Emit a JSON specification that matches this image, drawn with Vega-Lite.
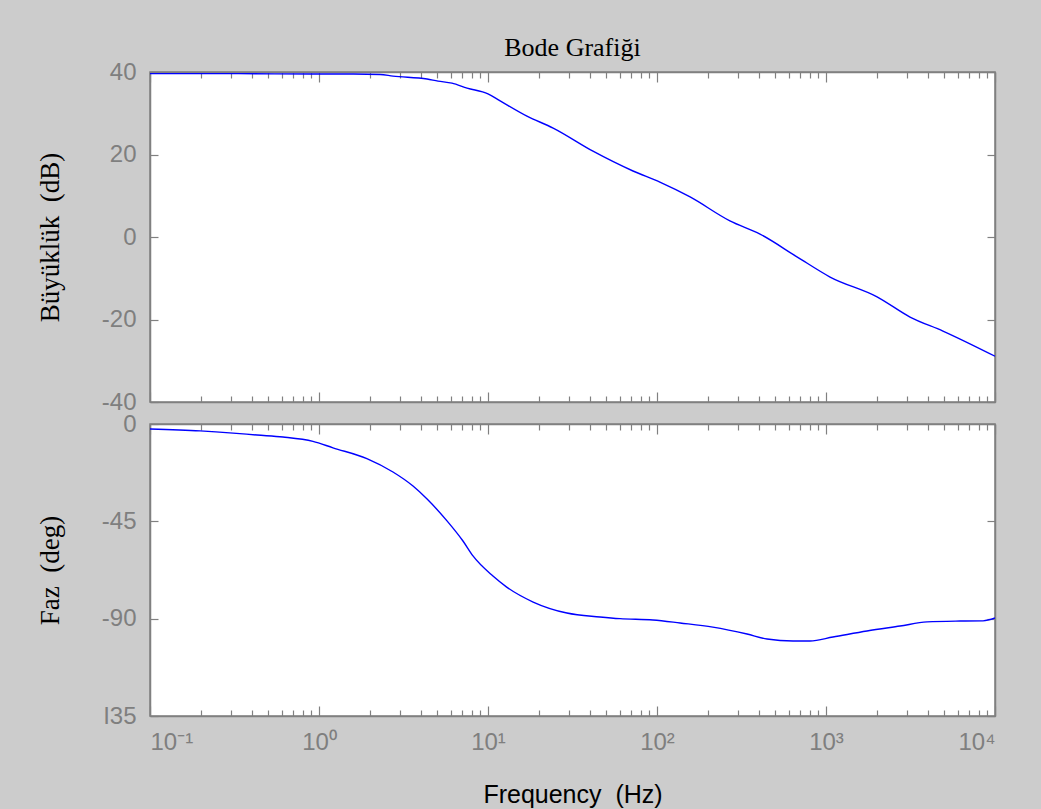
{
  "$schema": "https://vega.github.io/schema/vega-lite/v6.json",
  "autosize": {"type": "pad"},
  "padding": {"left": 35, "top": 34, "right": 45, "bottom": 2},
  "background": "#cccccc",
  "datasets": {
    "mag": [
      {"f": 0.1, "v": 39.6}, {"f": 0.3, "v": 39.6}, {"f": 1, "v": 39.5}, {"f": 1.6, "v": 39.5},
      {"f": 2.3, "v": 39.4}, {"f": 2.74, "v": 39.0}, {"f": 4.36, "v": 38.3}, {"f": 5.06, "v": 37.8},
      {"f": 6.12, "v": 37.3}, {"f": 7.52, "v": 36.1}, {"f": 10, "v": 34.7}, {"f": 11.8, "v": 33.0},
      {"f": 17.0, "v": 29.3}, {"f": 24.3, "v": 26.4}, {"f": 41.8, "v": 20.8}, {"f": 72.1, "v": 16.0},
      {"f": 104, "v": 13.3}, {"f": 157, "v": 9.7}, {"f": 270, "v": 3.9}, {"f": 407, "v": 0.7},
      {"f": 673, "v": -4.8}, {"f": 1057, "v": -9.7}, {"f": 2005, "v": -14.5}, {"f": 3142, "v": -19.4},
      {"f": 4920, "v": -22.8}, {"f": 10000, "v": -28.9}
    ],
    "phase": [
      {"f": 0.1, "v": -2.3}, {"f": 0.198, "v": -3.2}, {"f": 0.31, "v": -4.2}, {"f": 0.43, "v": -5.1},
      {"f": 0.612, "v": -6.0}, {"f": 0.921, "v": -8.0}, {"f": 1.21, "v": -11.0}, {"f": 1.92, "v": -16.0},
      {"f": 2.74, "v": -22.2}, {"f": 3.6, "v": -28.7}, {"f": 4.36, "v": -34.7}, {"f": 5.72, "v": -44.8},
      {"f": 7.11, "v": -54.1}, {"f": 8.15, "v": -61.0}, {"f": 10.7, "v": -70.3}, {"f": 12.9, "v": -75.4},
      {"f": 18.5, "v": -82.3}, {"f": 29.3, "v": -87.4}, {"f": 46.0, "v": -89.2}, {"f": 60.4, "v": -90.0},
      {"f": 94.6, "v": -90.6}, {"f": 137, "v": -92.0}, {"f": 214, "v": -93.9}, {"f": 341, "v": -97.1},
      {"f": 448, "v": -99.4}, {"f": 638, "v": -100.3}, {"f": 804, "v": -100.3}, {"f": 1099, "v": -98.5},
      {"f": 1748, "v": -95.7}, {"f": 2742, "v": -93.4}, {"f": 3963, "v": -91.5}, {"f": 6209, "v": -91.1},
      {"f": 8500, "v": -91.0}, {"f": 10000, "v": -89.7}
    ]
  },
  "config": {
    "view": {"fill": "white", "stroke": "#808080", "strokeWidth": 1.5},
    "axis": {
      "grid": false,
      "domainColor": "#808080",
      "domainWidth": 1.5,
      "tickColor": "#808080",
      "tickWidth": 1.2,
      "tickSize": -8,
      "labelColor": "#7f7f7f",
      "labelFont": "Liberation Sans",
      "labelFontSize": 24,
      "titleFont": "Liberation Serif",
      "titleFontSize": 27,
      "titleFontWeight": "normal",
      "titleColor": "black"
    },
    "title": {"font": "Liberation Serif", "fontSize": 26, "fontWeight": "normal", "color": "black"}
  },
  "vconcat": [
    {
      "width": 845,
      "height": 330,
      "title": {"text": "Bode Grafiği", "anchor": "middle", "offset": -1},
      "resolve": {"axis": {"x": "independent", "y": "independent"}},
      "layer": [
        {
          "data": {"name": "mag"},
          "mark": {"type": "line", "color": "#0000ff", "strokeWidth": 1.4, "clip": true, "interpolate": "monotone"},
          "encoding": {
            "x": {"field": "f", "type": "quantitative",
              "scale": {"type": "log", "domain": [0.1, 10000], "nice": false},
              "axis": {"orient": "bottom", "title": null, "labels": false,
                "values": [0.1,0.2,0.3,0.4,0.5,0.6,0.7,0.8,0.9,1,2,3,4,5,6,7,8,9,10,20,30,40,50,60,70,80,90,100,200,300,400,500,600,700,800,900,1000,2000,3000,4000,5000,6000,7000,8000,9000,10000],
                "tickSize": {"condition": {"test": "abs(log(datum.value)/LN10 - round(log(datum.value)/LN10)) < 0.001", "value": -10}, "value": -6}}},
            "y": {"field": "v", "type": "quantitative",
              "scale": {"domain": [-40, 40], "nice": false},
              "axis": {"orient": "left", "values": [-40, -20, 0, 20, 40], "labelExpr": "'' + datum.value",
                "labelPadding": 22, "title": "Büyüklük \u00a0(dB)", "titleX": -100, "titleY": 165, "titleBaseline": "middle", "titleAngle": 270}}
          }
        },
        {
          "data": {"name": "mag"},
          "mark": {"type": "line", "opacity": 0},
          "encoding": {
            "x": {"field": "f", "type": "quantitative",
              "scale": {"type": "log", "domain": [0.1, 10000], "nice": false},
              "axis": {"orient": "top", "title": null, "labels": false,
                "values": [0.1,0.2,0.3,0.4,0.5,0.6,0.7,0.8,0.9,1,2,3,4,5,6,7,8,9,10,20,30,40,50,60,70,80,90,100,200,300,400,500,600,700,800,900,1000,2000,3000,4000,5000,6000,7000,8000,9000,10000],
                "tickSize": {"condition": {"test": "abs(log(datum.value)/LN10 - round(log(datum.value)/LN10)) < 0.001", "value": -10}, "value": -6}}},
            "y": {"field": "v", "type": "quantitative",
              "scale": {"domain": [-40, 40], "nice": false},
              "axis": {"orient": "right", "values": [-40, -20, 0, 20, 40], "labels": false, "title": null}}
          }
        }
      ]
    },
    {
      "width": 845,
      "height": 292,
      "resolve": {"axis": {"x": "independent", "y": "independent"}},
      "layer": [
        {
          "data": {"name": "phase"},
          "mark": {"type": "line", "color": "#0000ff", "strokeWidth": 1.4, "clip": true, "interpolate": "monotone"},
          "encoding": {
            "x": {"field": "f", "type": "quantitative",
              "scale": {"type": "log", "domain": [0.1, 10000], "nice": false},
              "axis": {"orient": "bottom", "title": "Frequency \u00a0(Hz)", "titleFont": "Liberation Sans", "titleFontSize": 25, "titlePadding": 28,
                "labelPadding": 24,
                "labelExpr": "abs(log(datum.value)/LN10 - round(log(datum.value)/LN10)) < 0.001 ? ['10⁻¹','10⁰','10¹','10²','10³','10⁴'][round(log(datum.value)/LN10)+1] : ''",
                "values": [0.1,0.2,0.3,0.4,0.5,0.6,0.7,0.8,0.9,1,2,3,4,5,6,7,8,9,10,20,30,40,50,60,70,80,90,100,200,300,400,500,600,700,800,900,1000,2000,3000,4000,5000,6000,7000,8000,9000,10000],
                "tickSize": {"condition": {"test": "abs(log(datum.value)/LN10 - round(log(datum.value)/LN10)) < 0.001", "value": -10}, "value": -6}}},
            "y": {"field": "v", "type": "quantitative",
              "scale": {"domain": [-135, 0], "nice": false},
              "axis": {"orient": "left", "values": [0, -45, -90, -135], "labelExpr": "datum.value == -135 ? 'I35' : '' + datum.value",
                "labelPadding": 22, "title": "Faz \u00a0(deg)", "titleX": -100, "titleY": 146, "titleBaseline": "middle", "titleAngle": 270}}
          }
        },
        {
          "data": {"name": "phase"},
          "mark": {"type": "line", "opacity": 0},
          "encoding": {
            "x": {"field": "f", "type": "quantitative",
              "scale": {"type": "log", "domain": [0.1, 10000], "nice": false},
              "axis": {"orient": "top", "title": null, "labels": false,
                "values": [0.1,0.2,0.3,0.4,0.5,0.6,0.7,0.8,0.9,1,2,3,4,5,6,7,8,9,10,20,30,40,50,60,70,80,90,100,200,300,400,500,600,700,800,900,1000,2000,3000,4000,5000,6000,7000,8000,9000,10000],
                "tickSize": {"condition": {"test": "abs(log(datum.value)/LN10 - round(log(datum.value)/LN10)) < 0.001", "value": -10}, "value": -6}}},
            "y": {"field": "v", "type": "quantitative",
              "scale": {"domain": [-135, 0], "nice": false},
              "axis": {"orient": "right", "values": [0, -45, -90, -135], "labels": false, "title": null}}
          }
        }
      ]
    }
  ],
  "spacing": 22,
  "bounds": "flush"
}
